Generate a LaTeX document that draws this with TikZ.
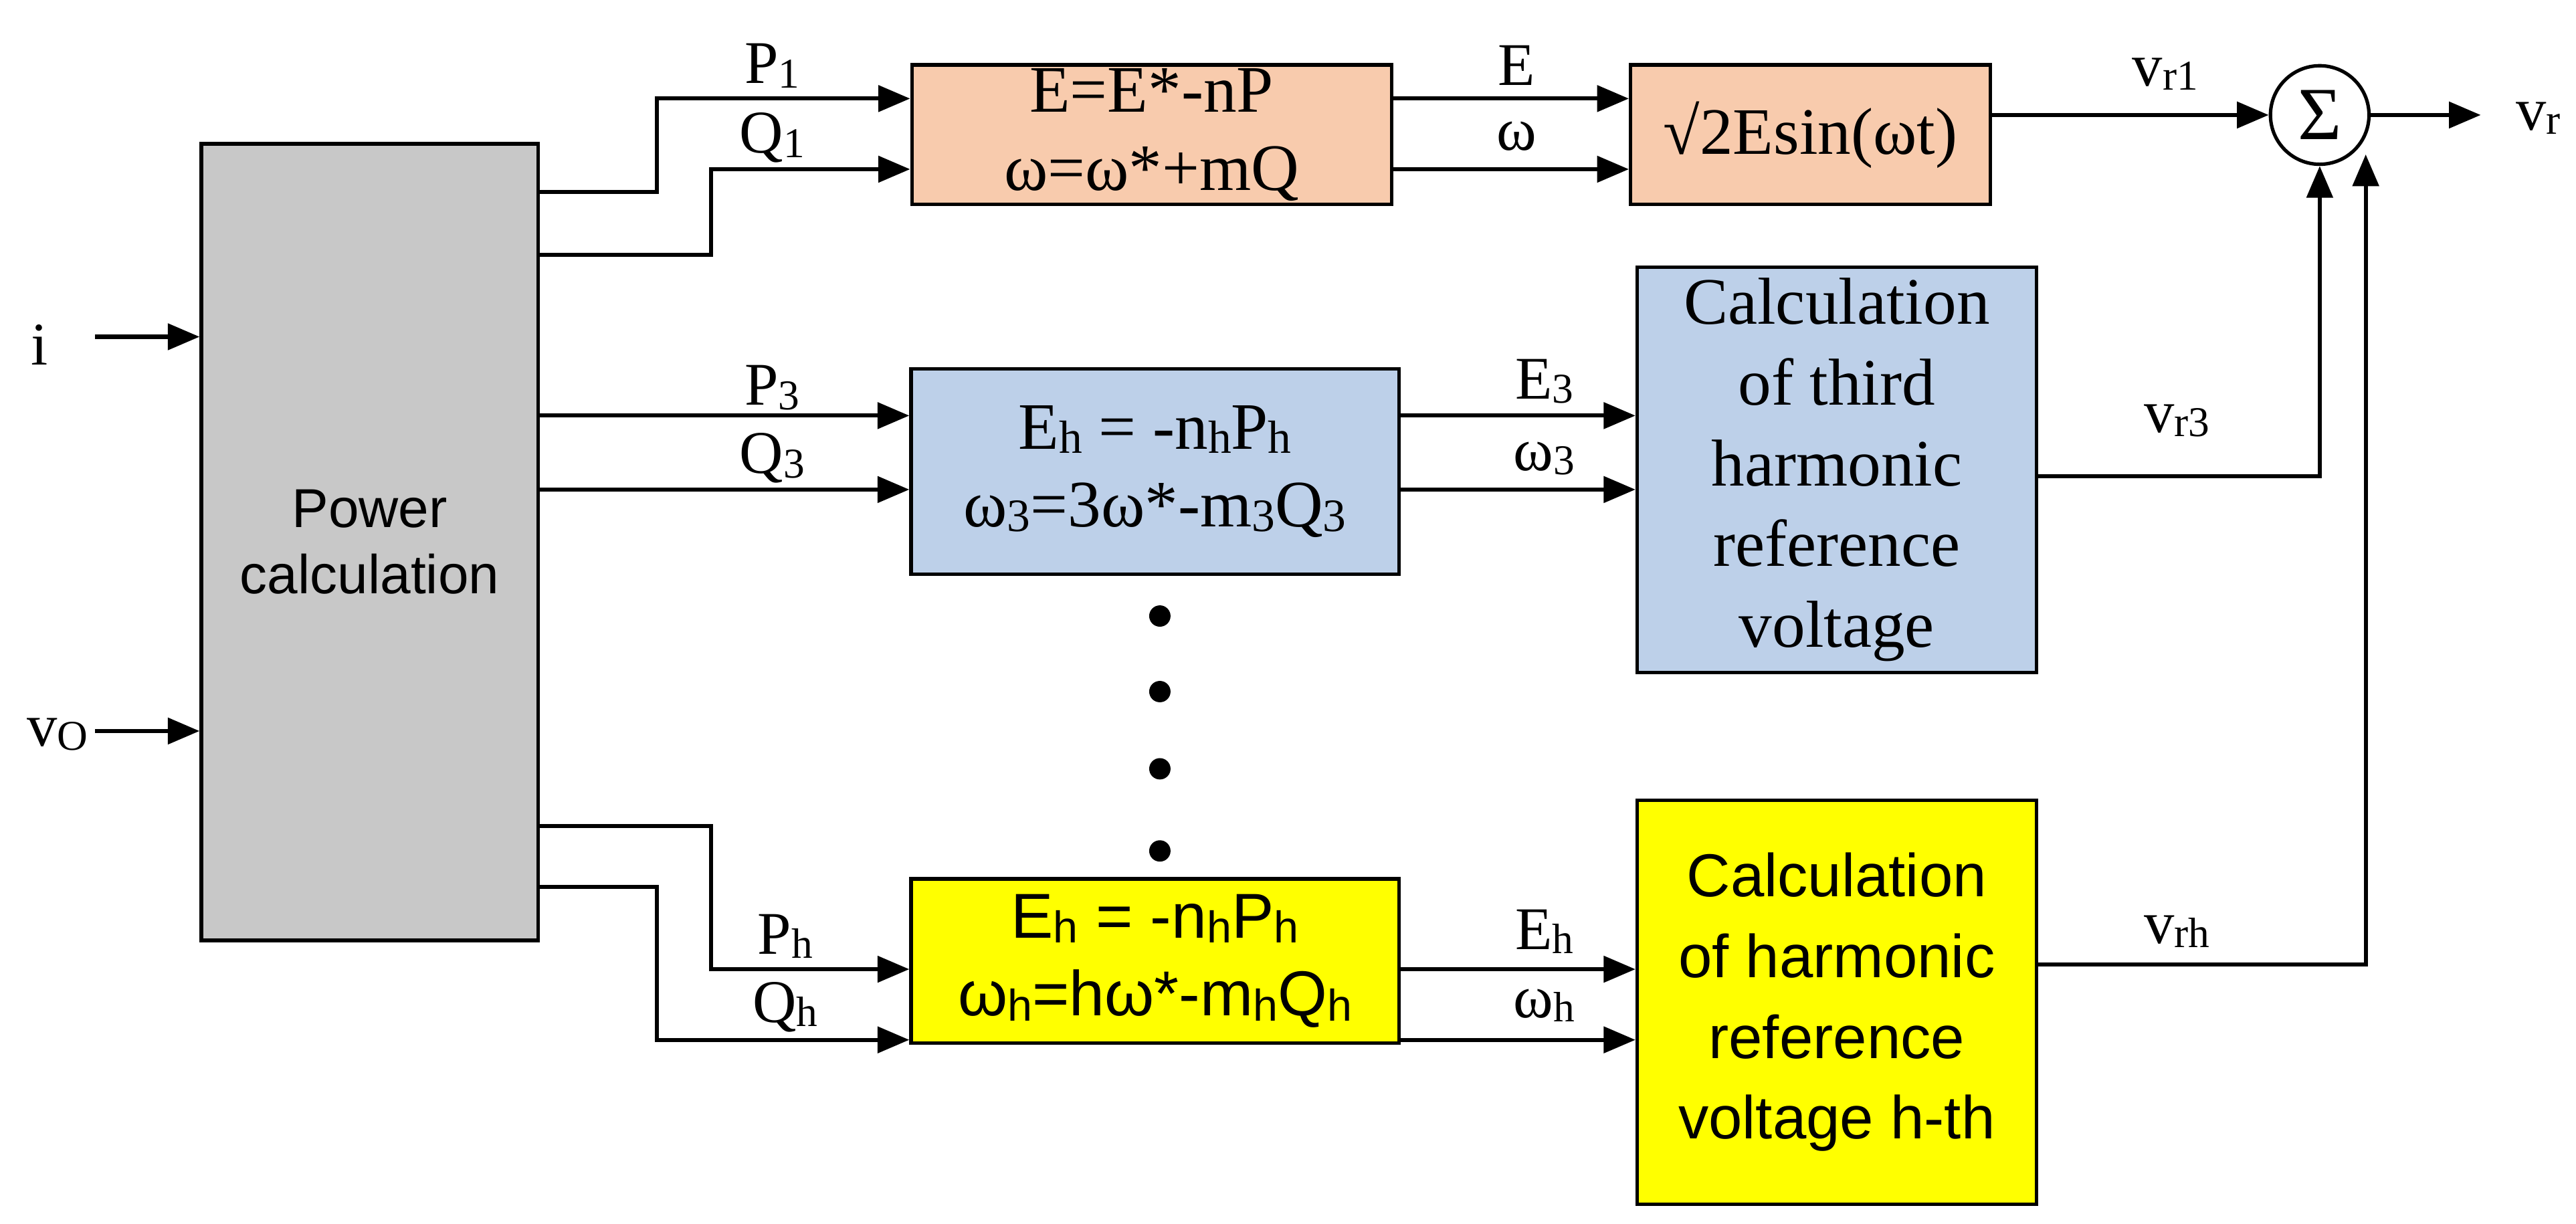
\documentclass[tikz,border=0pt]{standalone}
\usepackage{fontspec}
\setmainfont{Liberation Serif}
\newfontfamily\sansf{Liberation Sans}
\usetikzlibrary{arrows.meta}
\definecolor{orng}{HTML}{F8CBAD}
\definecolor{blu}{HTML}{BDD0E9}
\definecolor{yel}{HTML}{FFFF00}
\definecolor{gry}{HTML}{C8C8C8}
\newcommand{\sub}[1]{\raisebox{-0.15ex}{\scalebox{0.7}{#1}}}
\begin{document}
\begin{tikzpicture}[x=0.02cm,y=-0.02cm,
  every node/.style={font=\fontsize{21}{25}\selectfont},
  big/.style={font=\fontsize{23}{27}\selectfont},
  blk/.style={draw,line width=1.2pt,align=center,inner sep=0pt},
  sig/.style={line width=1.4pt,-{Triangle[length=11pt,width=9pt]}},
  lbl/.style={inner sep=1pt}]
\useasboundingbox (0,0) rectangle (1568,745);
% blocks
\node[blk,fill=gry,minimum width=4.1cm,minimum height=9.7cm,font=\sansf\fontsize{19}{23}\selectfont] (pc) at (225,330) {Power\\calculation};
\node[blk,big,fill=orng,minimum width=5.84cm,minimum height=1.7cm] (b1) at (701,82) {E=E*-nP\\ω=ω*+mQ};
\node[blk,big,fill=orng,minimum width=4.38cm,minimum height=1.7cm] (b2) at (1102,82) {√2Esin(ωt)};
\node[draw,circle,line width=1.2pt,minimum size=1.2cm,inner sep=0pt,font=\fontsize{26}{30}\selectfont] (sum) at (1412,70) {Σ};
\node[blk,big,fill=blu,minimum width=5.94cm,minimum height=2.5cm] (b3) at (703,287) {E\sub{h} = -n\sub{h}P\sub{h}\\ω\sub{3}=3ω*-m\sub{3}Q\sub{3}};
\node[blk,fill=blu,minimum width=4.86cm,minimum height=4.94cm,font=\fontsize{23}{28}\selectfont] (b4) at (1118,286) {Calculation\\of third\\harmonic\\reference\\voltage};
\node[blk,fill=yel,minimum width=5.94cm,minimum height=2.0cm,font=\sansf\fontsize{22}{27}\selectfont] (b5) at (703,585) {E\sub{h} = -n\sub{h}P\sub{h}\\ω\sub{h}=hω*-m\sub{h}Q\sub{h}};
\node[blk,fill=yel,minimum width=4.86cm,minimum height=4.92cm,font=\sansf\fontsize{21}{28}\selectfont] (b6) at (1118,610) {Calculation\\of harmonic\\reference\\voltage h-th};
% dots
\foreach \yy in {375,421,468,518}
  \fill (706,\yy) circle (6.5);
% inputs
\node[lbl] (iin) at (24,210) {i};
\node[lbl] (vin) at (35,447) {v\sub{O}};
\coordinate (ia) at (58,205);
\coordinate (va) at (58,445);
\draw[sig] (ia) -- (pc.west |- ia);
\draw[sig] (va) -- (pc.west |- va);
% power calc outputs
\draw[sig] (pc.east |- 0,117) -| (400,60) -- (b1.west |- 0,60);
\draw[sig] (pc.east |- 0,155) -| (433,103) -- (b1.west |- 0,103);
\draw[sig] (pc.east |- 0,253) -- (b3.west |- 0,253);
\draw[sig] (pc.east |- 0,298) -- (b3.west |- 0,298);
\draw[sig] (pc.east |- 0,503) -| (433,590) -- (b5.west |- 0,590);
\draw[sig] (pc.east |- 0,540) -| (400,633) -- (b5.west |- 0,633);
\node[lbl] (lp1) at (470,40) {P\sub{1}};
\node[lbl] (lq1) at (470,84) {Q\sub{1}};
\node[lbl] (lp3) at (470,236) {P\sub{3}};
\node[lbl] (lq3) at (470,279) {Q\sub{3}};
\node[lbl] (lph) at (478,570) {P\sub{h}};
\node[lbl] (lqh) at (478,613) {Q\sub{h}};
% middle connectors
\draw[sig] (b1.east |- 0,60) -- (b2.west |- 0,60);
\draw[sig] (b1.east |- 0,103) -- (b2.west |- 0,103);
\draw[sig] (b3.east |- 0,253) -- (b4.west |- 0,253);
\draw[sig] (b3.east |- 0,298) -- (b4.west |- 0,298);
\draw[sig] (b5.east |- 0,590) -- (b6.west |- 0,590);
\draw[sig] (b5.east |- 0,633) -- (b6.west |- 0,633);
\node[lbl] (le) at (923,40) {E};
\node[lbl] (lw) at (923,83) {ω};
\node[lbl] (le3) at (940,232) {E\sub{3}};
\node[lbl] (lw3) at (940,279) {ω\sub{3}};
\node[lbl] (leh) at (940,567) {E\sub{h}};
\node[lbl] (lwh) at (940,612) {ω\sub{h}};
% outputs
\draw[sig] (b2.east |- sum) -- (sum.west);
\coordinate (vout) at (1510,70);
\draw[sig] (sum.east) -- (vout);
\draw[sig] (b4.east |- 0,290) -| (sum.south);
\coordinate (vh) at (1440,94);
\draw[sig] (b6.east |- 0,587) -| (vh);
\node[lbl] (lv1) at (1318,45) {v\sub{r1}};
\node[lbl] (lv) at (1545,72) {v\sub{r}};
\node[lbl] (lv3) at (1325,256) {v\sub{r3}};
\node[lbl] (lvh) at (1325,567) {v\sub{rh}};
\end{tikzpicture}
\end{document}
